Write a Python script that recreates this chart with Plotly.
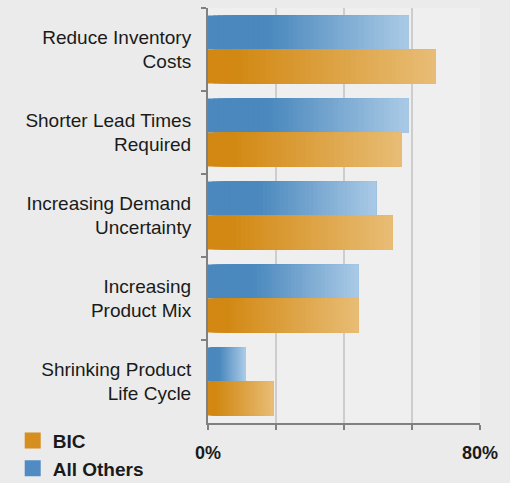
import plotly.graph_objects as go

categories = ["Reduce Inventory<br>Costs", "Shorter Lead Times<br>Required",
              "Increasing Demand<br>Uncertainty", "Increasing<br>Product Mix",
              "Shrinking Product<br>Life Cycle"]
all_others = [59, 59, 49.5, 44.3, 11]
bic = [67, 57, 54.3, 44.3, 19.3]
tick_vals = [0, 20, 40, 60, 80]
tick_text = ["0%", "", "", "", "80%"]

FONT = "Liberation Sans, Arial, sans-serif"
N = 40


def lerp(c1, c2, t):
    return "rgb(%d,%d,%d)" % tuple(round(a + (b - a) * t) for a, b in zip(c1, c2))


def grad_color(dark, light, k, start):
    t = (k + 0.5) / N
    u = max(0.0, (t - start) / (1 - start))
    return lerp(dark, light, u)


series = [
    ("All Others", all_others, (74, 136, 189), (170, 202, 230), 0.3),
    ("BIC", bic, (210, 136, 18), (232, 189, 118), 0.12),
]

fig = go.Figure()
for name, vals, dark, light, start in series:
    for k in range(N):
        fig.add_trace(go.Bar(
            y=categories, x=[v * (N - k) / N for v in vals], base=[v * k / N for v in vals],
            orientation="h", offsetgroup=name, showlegend=False,
            marker=dict(color=grad_color(dark, light, k, start), line=dict(width=0)),
            hoverinfo="skip"))

for name, color in [("BIC", "rgb(214,142,30)"), ("All Others", "rgb(80,140,195)")]:
    fig.add_trace(go.Scatter(x=[None], y=[None], mode="markers", name=name,
                             marker=dict(symbol="square", size=16, color=color)))

fig.update_layout(
    width=510, height=483,
    margin=dict(l=208, r=30, t=8, b=60, autoexpand=False),
    barmode="group", bargap=0.18, bargroupgap=0,
    paper_bgcolor="#ebebeb", plot_bgcolor="#efefef",
    font=dict(family=FONT, size=19, color="#1a1a1a"),
    showlegend=True,
    legend=dict(x=-0.718, y=0.003, xanchor="left", yanchor="top",
                bgcolor="rgba(0,0,0,0)", font=dict(size=19, family=FONT, weight="bold"),
                tracegroupgap=0),
    xaxis=dict(range=[0, 80], tickvals=tick_vals, ticktext=tick_text,
               showgrid=True, gridcolor="#cdcdcd", gridwidth=1.5,
               showline=True, linecolor="#808080", linewidth=2,
               ticks="outside", ticklen=5, tickcolor="#808080", tickwidth=2,
               ticklabelstandoff=7, zeroline=False, automargin=False,
               tickfont=dict(size=18, family=FONT, weight="bold")),
    yaxis=dict(autorange="reversed", showline=True, linecolor="#808080", linewidth=2,
               ticks="outside", ticklen=5, tickcolor="#808080", tickwidth=2,
               tickson="boundaries", showgrid=False, ticklabelstandoff=11,
               automargin=False, tickfont=dict(size=19, family=FONT)),
)

fig.write_html("out.html", config={"displayModeBar": False},
               post_script="document.body.style.margin='0';document.body.style.background='#ebebeb';")
